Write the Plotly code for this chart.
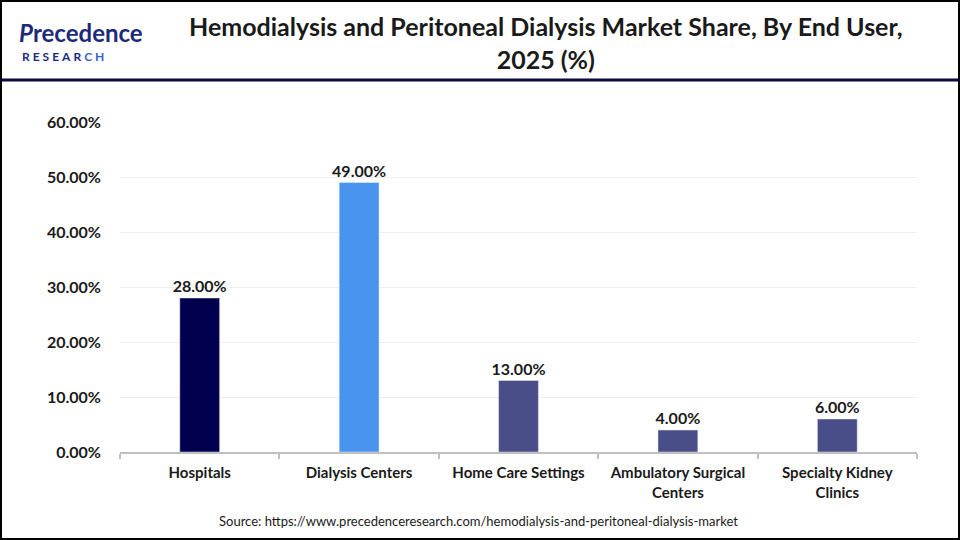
import plotly.graph_objects as go

categories = ["Hospitals", "Dialysis Centers", "Home Care Settings",
              "Ambulatory Surgical<br>Centers", "Specialty Kidney<br>Clinics"]
values = [28.0, 49.0, 13.0, 4.0, 6.0]
colors = ["#00004f", "#4894ee", "#494e88", "#494e88", "#494e88"]
tick_vals = [0, 10, 20, 30, 40, 50, 60]
tick_text = ["0.00%", "10.00%", "20.00%", "30.00%", "40.00%", "50.00%", "60.00%"]

W, H = 960, 540
L, R, T, B = 120, 43, 122, 88
pw, ph = W - L - R, H - T - B

def px(x):
    return (x - L) / pw

def py(y):
    return (H - B - y) / ph

FONT = "Lato"

fig = go.Figure()
fig.add_trace(go.Bar(
    x=categories, y=values, marker_color=colors, width=0.25,
    text=[f"<b>{v:.2f}%</b>" for v in values], textposition="outside",
    textfont=dict(family=FONT, size=16, color="#1a1a1a"),
    constraintext="none", cliponaxis=False, hoverinfo="skip",
))

fig.update_layout(
    width=W, height=H,
    margin=dict(l=L, r=R, t=T, b=B),
    paper_bgcolor="white", plot_bgcolor="white",
    showlegend=False,
    font=dict(family=FONT, color="#1a1a1a"),
    bargap=0.75,
    xaxis=dict(
        showgrid=False, showline=True, linecolor="#c0c0c0", linewidth=2,
        ticks="outside", tickson="boundaries", tickcolor="#c0c0c0", ticklen=5, tickwidth=2,
        tickfont=dict(family=FONT, size=15, color="#1a1a1a", weight="bold"),
        ticklabelstandoff=6,
    ),
    yaxis=dict(
        range=[0, 60], tickvals=tick_vals, ticktext=tick_text,
        showgrid=True, gridcolor="#efefef", gridwidth=1, zeroline=False,
        tickfont=dict(family=FONT, size=16, color="#1a1a1a", weight="bold"),
        ticklabelstandoff=18,
    ),
)

shapes = [
    dict(type="rect", xref="paper", yref="paper", x0=px(1), x1=px(959), y0=py(539), y1=py(1),
         line=dict(color="#000000", width=2), fillcolor="rgba(0,0,0,0)", layer="above"),
    dict(type="line", xref="paper", yref="paper", x0=px(1), x1=px(959), y0=py(80), y1=py(80),
         line=dict(color="#0a0a3c", width=3)),
]
fig.update_layout(shapes=shapes)

annotations = [
    dict(text="<b>Hemodialysis and Peritoneal Dialysis Market Share, By End User,<br>2025 (%)</b>",
         xref="paper", yref="paper", x=px(546), y=py(43), xanchor="center", yanchor="middle",
         showarrow=False, font=dict(family=FONT, size=25, color="#1a1a1a"), align="center"),
    dict(text="<b><i>P</i>recedence</b>", xref="paper", yref="paper", x=px(17), y=py(32),
         xanchor="left", yanchor="middle", showarrow=False,
         font=dict(family=FONT, size=24, color="#1c2a7a")),
    dict(text="<b>R\u2009\u2009E\u2009\u2009S\u2009\u2009E\u2009\u2009A\u2009\u2009R\u2009\u2009<span style='color:#3a5fd0'>C\u2009\u2009H</span></b>",
         xref="paper", yref="paper", x=px(20), y=py(56),
         xanchor="left", yanchor="middle", showarrow=False,
         font=dict(family=FONT, size=12, color="#1c2a7a")),
    dict(text="Source: https://www.precedenceresearch.com/hemodialysis-and-peritoneal-dialysis-market",
         xref="paper", yref="paper", x=px(478), y=py(521), xanchor="center", yanchor="middle",
         showarrow=False, font=dict(family=FONT, size=13, color="#1a1a1a")),
]
fig.update_layout(annotations=annotations)

fig.write_html("out.html")
